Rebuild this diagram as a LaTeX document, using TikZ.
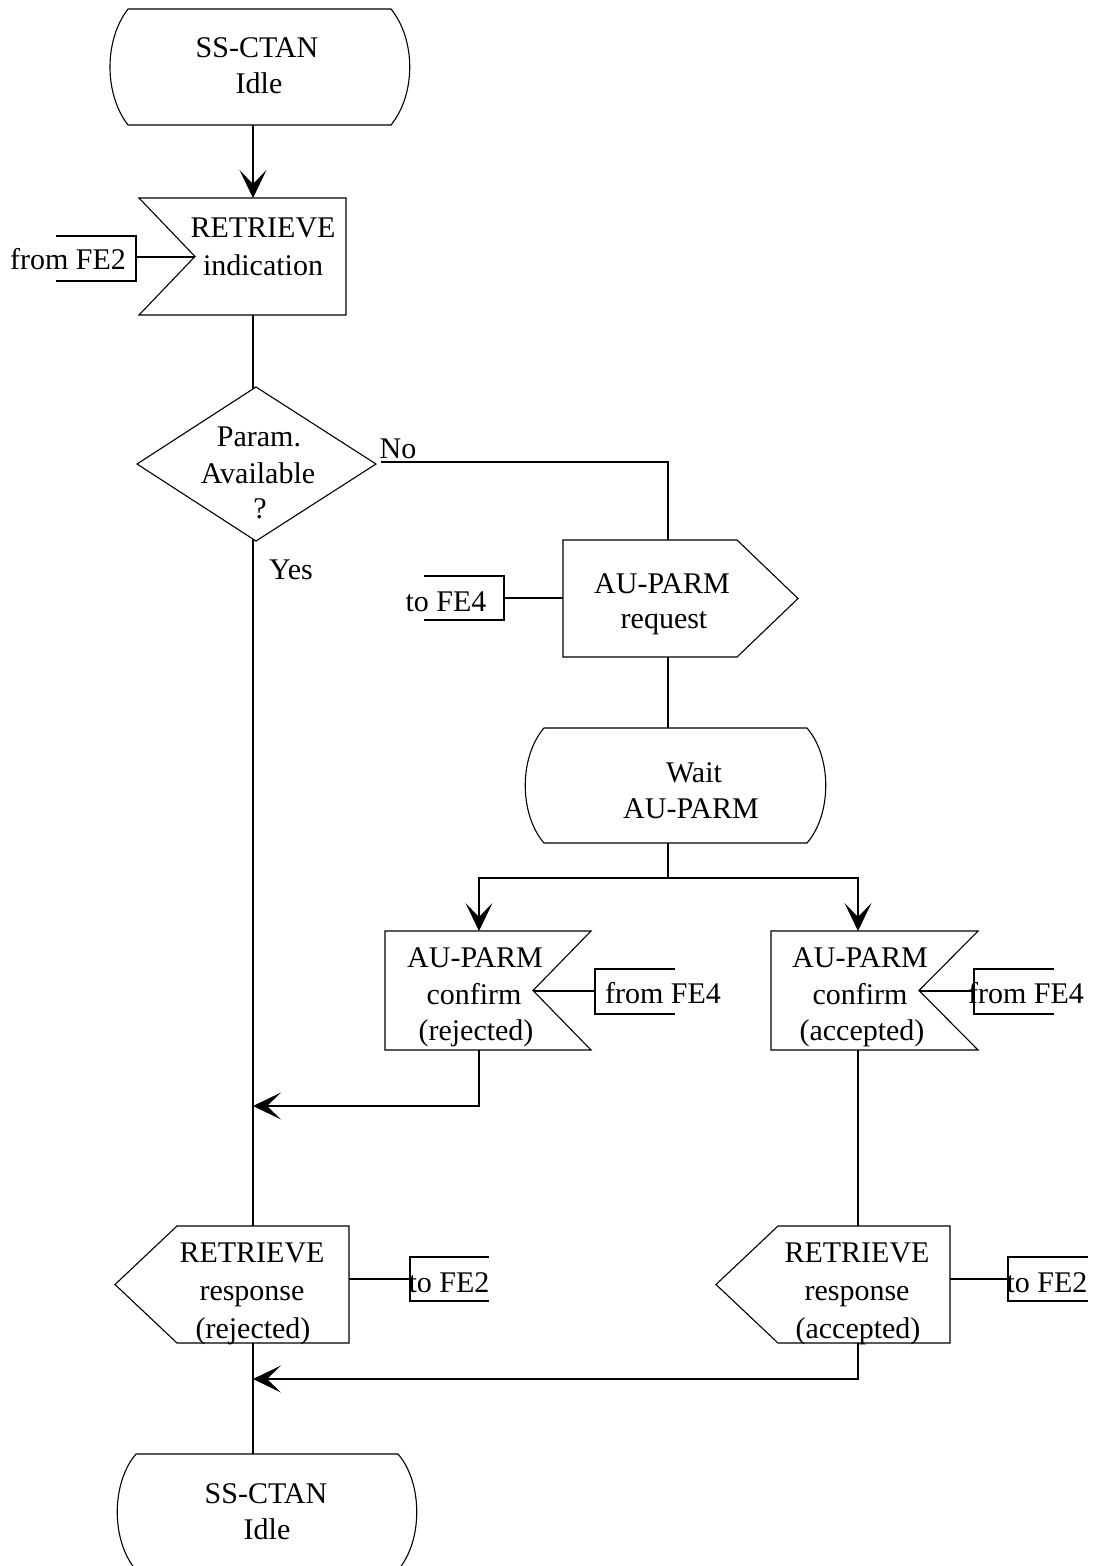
\documentclass[tikz,border=0pt]{standalone}
\usepackage{fontspec}
\setmainfont{Liberation Serif}
\usetikzlibrary{arrows.meta}
\begin{document}
\begin{tikzpicture}[x=1pt,y=-1pt,line width=1.1pt,
  lbl/.style={anchor=base,inner sep=0pt,font=\fontsize{30}{36}\selectfont},
  shp/.style={draw,line join=miter},
  conn/.style={draw},
  arr/.style={-{Stealth[length=28pt,width=27pt,inset=14pt]}}]
\useasboundingbox (0,0) rectangle (1096,1566);
\clip (0,0) rectangle (1096,1566);
\fill[white] (0,0) rectangle (1096,1566);

% ---- top idle state
\draw[shp] (128,9) -- (391,9) .. controls (416,40) and (416,94) .. (391,125)
  -- (128,125) .. controls (104,94) and (104,40) .. (128,9) -- cycle;
\node[lbl] (idleA1) at (257,57) {SS-CTAN};
\node[lbl] (idleA2) at (259,93) {Idle};
\coordinate (idleA-s) at (253,125);

% ---- RETRIEVE indication (input)
\draw[shp] (139,198) -- (346,198) -- (346,315) -- (139,315) -- (195,256.5) -- cycle;
\node[lbl] (ind1) at (263,237) {RETRIEVE};
\node[lbl] (ind2) at (263,275) {indication};
\coordinate (ind-n) at (253,198);
\coordinate (ind-s) at (253,315);
\coordinate (ind-w) at (195,257);
\draw[shp] (56,236) -- (136,236) -- (136,281) -- (56,281);
\node[lbl] (fe2inT) at (68,269) {from FE2};
\coordinate (fe2in) at (136,257);
\draw[conn] (fe2in) -- (ind-w);
\draw[conn,arr] (idleA-s) -- (ind-n);

% ---- decision
\draw[shp] (256,387) -- (376,464) -- (256,541) -- (137,464) -- cycle;
\node[lbl] (p1) at (259,446) {Param.};
\node[lbl] (p2) at (258,483) {Available};
\node[lbl] (p3) at (260,518) {?};
\node[lbl] (no) at (398,458) {No};
\node[lbl] (yes) at (291,579) {Yes};
\coordinate (dec-n) at (253,389);
\coordinate (dec-s) at (253,539);
\coordinate (dec-e) at (381,462);
\draw[conn] (ind-s) -- (dec-n);

% ---- AU-PARM request (output)
\draw[shp] (563,540) -- (737,540) -- (798,598.5) -- (737,657) -- (563,657) -- cycle;
\node[lbl] (req1) at (662,593) {AU-PARM};
\node[lbl] (req2) at (664,628) {request};
\coordinate (req-n) at (668,540);
\coordinate (req-s) at (668,657);
\coordinate (req-w) at (563,598);
\draw[conn] (dec-e) -| (req-n);
\draw[shp] (424,576) -- (504,576) -- (504,620) -- (424,620);
\node[lbl] (fe4outT) at (446,611) {to FE4};
\coordinate (fe4out) at (504,598);
\draw[conn] (fe4out) -- (req-w);

% ---- Wait AU-PARM state
\draw[shp] (544,728) -- (807,728) .. controls (832,757) and (832,814) .. (807,843)
  -- (544,843) .. controls (519,814) and (519,757) .. (544,728) -- cycle;
\node[lbl] (w1) at (694,782) {Wait};
\node[lbl] (w2) at (691,818) {AU-PARM};
\coordinate (wait-n) at (668,728);
\coordinate (wait-s) at (668,843);
\draw[conn] (req-s) -- (wait-n);
\coordinate (split) at (668,878);
\draw[conn] (wait-s) -- (split);

% ---- confirm (rejected)
\draw[shp] (385,931) -- (591,931) -- (533,990.5) -- (591,1050) -- (385,1050) -- cycle;
\node[lbl] (crj1) at (475,967) {AU-PARM};
\node[lbl] (crj2) at (474,1004) {confirm};
\node[lbl] (crj3) at (476,1040) {(rejected)};
\coordinate (crj-n) at (479,931);
\coordinate (crj-s) at (479,1050);
\coordinate (crj-e) at (533,991);
\draw[shp] (675,969) -- (595,969) -- (595,1014) -- (675,1014);
\node[lbl] (fe4aT) at (663,1003) {from FE4};
\coordinate (fe4a) at (595,991);
\draw[conn] (fe4a) -- (crj-e);

% ---- confirm (accepted)
\draw[shp] (771,931) -- (978,931) -- (919,990.5) -- (978,1050) -- (771,1050) -- cycle;
\node[lbl] (cac1) at (860,967) {AU-PARM};
\node[lbl] (cac2) at (860,1004) {confirm};
\node[lbl] (cac3) at (862,1040) {(accepted)};
\coordinate (cac-n) at (858,931);
\coordinate (cac-s) at (858,1050);
\coordinate (cac-e) at (919,991);
\draw[shp] (1054,969) -- (974,969) -- (974,1014) -- (1054,1014);
\node[lbl] (fe4bT) at (1026,1003) {from FE4};
\coordinate (fe4b) at (974,991);
\draw[conn] (fe4b) -- (cac-e);

\draw[conn,arr] (split) -| (crj-n);
\draw[conn,arr] (split) -| (cac-n);

% ---- RETRIEVE response (rejected)
\draw[shp] (177,1226) -- (349,1226) -- (349,1343) -- (177,1343) -- (115,1284.5) -- cycle;
\node[lbl] (rrj1) at (252,1262) {RETRIEVE};
\node[lbl] (rrj2) at (252,1300) {response};
\node[lbl] (rrj3) at (253,1338) {(rejected)};
\coordinate (rrj-n) at (253,1226);
\coordinate (rrj-s) at (253,1343);
\coordinate (rrj-e) at (349,1279);
\draw[shp] (489,1257) -- (410,1257) -- (410,1301) -- (489,1301);
\node[lbl] (fe2aT) at (449,1292) {to FE2};
\coordinate (fe2a) at (410,1279);
\draw[conn] (rrj-e) -- (fe2a);

% ---- RETRIEVE response (accepted)
\draw[shp] (778,1226) -- (950,1226) -- (950,1343) -- (778,1343) -- (716,1284.5) -- cycle;
\node[lbl] (rac1) at (857,1262) {RETRIEVE};
\node[lbl] (rac2) at (857,1300) {response};
\node[lbl] (rac3) at (858,1338) {(accepted)};
\coordinate (rac-n) at (858,1226);
\coordinate (rac-s) at (858,1343);
\coordinate (rac-e) at (950,1279);
\draw[shp] (1088,1257) -- (1008,1257) -- (1008,1301) -- (1088,1301);
\node[lbl] (fe2bT) at (1047,1292) {to FE2};
\coordinate (fe2b) at (1008,1279);
\draw[conn] (rac-e) -- (fe2b);

% ---- main line and merges
\draw[conn] (dec-s) -- (rrj-n);
\coordinate (m1) at (253,1106);
\draw[conn,arr] (crj-s) |- (m1);
\draw[conn] (cac-s) -- (rac-n);
\coordinate (m2) at (253,1379);
\draw[conn,arr] (rac-s) |- (m2);

% ---- bottom idle state
\draw[shp] (136,1454) -- (398,1454) .. controls (423,1483) and (423,1541) .. (398,1570)
  -- (136,1570) .. controls (111,1541) and (111,1483) .. (136,1454) -- cycle;
\node[lbl] (idleB1) at (266,1503) {SS-CTAN};
\node[lbl] (idleB2) at (267,1539) {Idle};
\coordinate (idleB-n) at (253,1454);
\draw[conn] (rrj-s) -- (idleB-n);
\end{tikzpicture}
\end{document}
